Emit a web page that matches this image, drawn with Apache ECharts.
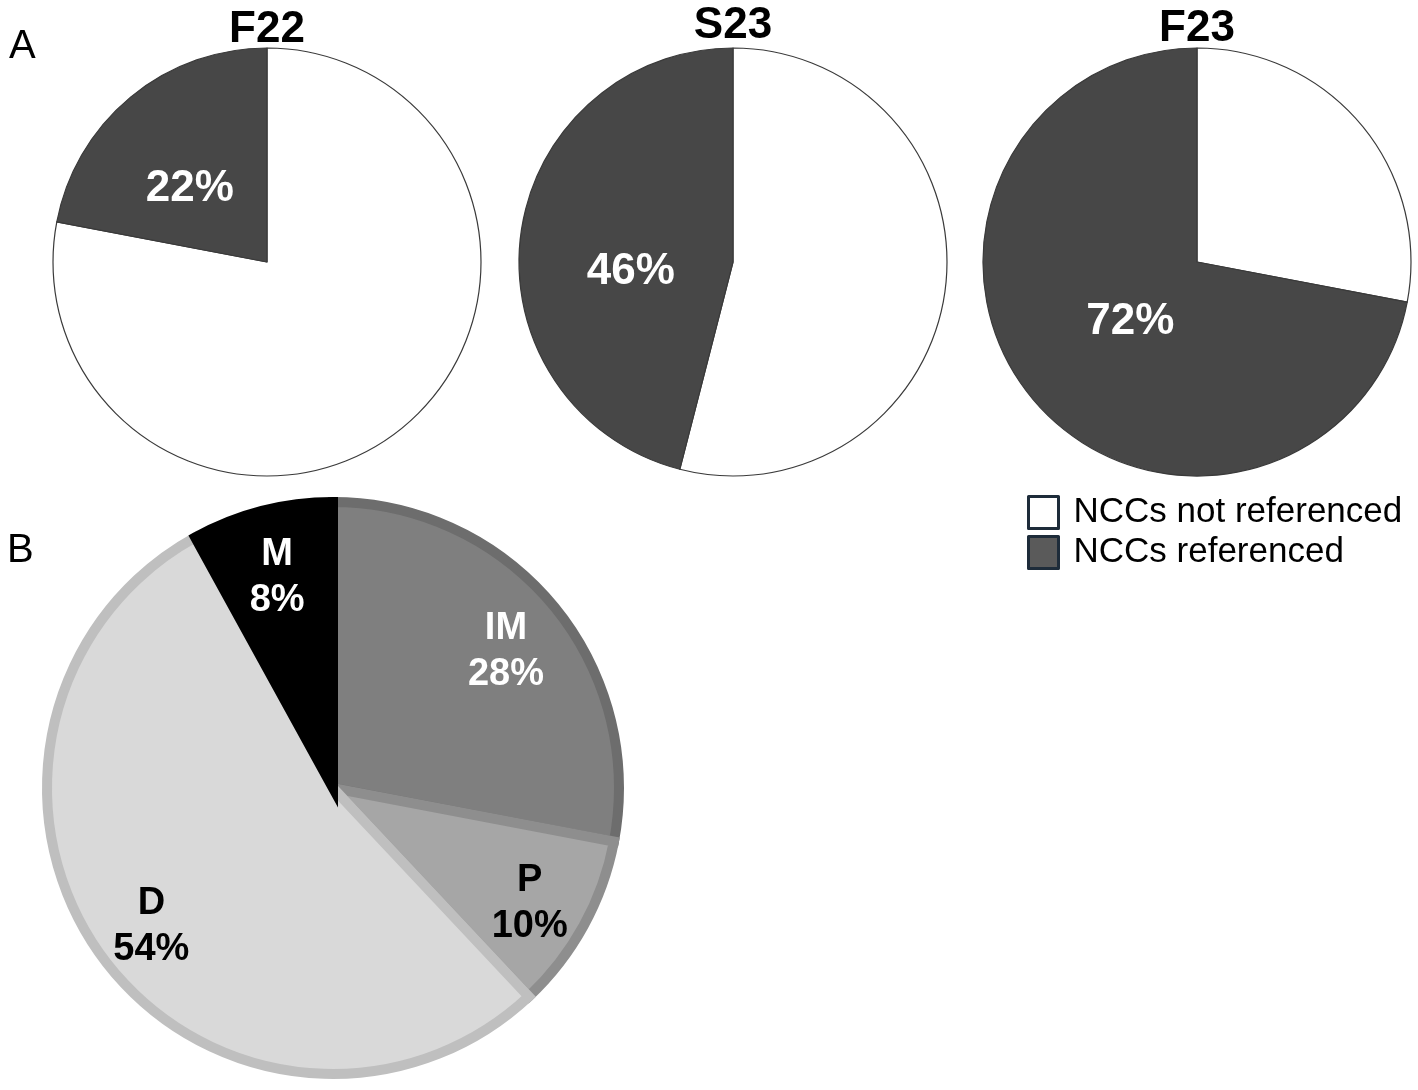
<!DOCTYPE html>
<html>
<head>
<meta charset="utf-8">
<script src="https://cdn.jsdelivr.net/npm/echarts@6/dist/echarts.min.js"></script>
<style>
  html, body { margin: 0; padding: 0; background: #fff; }
  #chart { width: 1418px; height: 1090px; }
</style>
</head>
<body>
<div id="chart"></div>
<script>
// panel A: share of NCCs referenced per term
var terms = ['F22', 'S23', 'F23'];
var refNames = ['NCCs not referenced', 'NCCs referenced'];
var notReferenced = [78, 54, 28];
var referenced = [22, 46, 72];

// panel B: category split
var catNames = ['IM', 'P', 'D', 'M'];
var catValues = [28, 10, 54, 8];

var catFill = ['#7f7f7f', '#a6a6a6', '#d9d9d9', '#000000'];
var catBorder = ['#6d6d6d', '#8e8e8e', '#bfbfbf', '#000000'];
var catText = ['#fff', '#000', '#000', '#fff'];

var pieCentersA = [[267, 262], [733, 262], [1197, 262]];
var titleY = [30, 26, 29];
// nudges so the % labels sit where the original put them
var labelNudge = [[-7, 12], [7, 24], [18, -10]];

var myChart = echarts.init(document.getElementById('chart'));

var series = [];
var graphics = [];

terms.forEach(function (t, i) {
    series.push({
        type: 'pie',
        center: pieCentersA[i],
        radius: 214,
        startAngle: 90,
        clockwise: true,
        silent: true,
        emphasis: { disabled: true },
        labelLine: { show: false },
        data: [
            {
                name: refNames[0],
                value: notReferenced[i],
                itemStyle: { color: '#ffffff', borderColor: '#3a3a3a', borderWidth: 1.2 },
                label: { show: false }
            },
            {
                name: refNames[1],
                value: referenced[i],
                itemStyle: { color: '#474747', borderColor: '#3a3a3a', borderWidth: 1.2 },
                label: {
                    show: true,
                    position: 'inside',
                    formatter: referenced[i] + '%',
                    color: '#fff',
                    fontSize: 44,
                    fontWeight: 'bold',
                    fontFamily: 'Liberation Sans, Arial, sans-serif',
                    offset: labelNudge[i]
                }
            }
        ]
    });
    graphics.push({
        type: 'text',
        x: pieCentersA[i][0],
        y: titleY[i],
        style: {
            text: t,
            textAlign: 'center',
            textVerticalAlign: 'middle',
            fill: '#000',
            font: 'bold 44px "Liberation Sans", Arial, sans-serif'
        }
    });
});

// panel B pie
series.push({
    type: 'pie',
    center: [333, 788],
    radius: 286,
    startAngle: 90,
    clockwise: true,
    silent: true,
    emphasis: { disabled: true },
    label: { show: false },
    labelLine: { show: false },
    data: catNames.map(function (n, i) {
        return {
            name: n,
            value: catValues[i],
            itemStyle: { color: catFill[i], borderColor: catBorder[i], borderWidth: 10, borderJoin: 'miter' }
        };
    })
});

// transparent ring on top only to carry the labels a bit further out
series.push({
    type: 'pie',
    center: [333, 788],
    radius: [152, 291],
    startAngle: 90,
    clockwise: true,
    silent: true,
    emphasis: { disabled: true },
    labelLine: { show: false },
    data: catNames.map(function (n, i) {
        return {
            name: n,
            value: catValues[i],
            itemStyle: { color: 'rgba(0,0,0,0)', borderWidth: 0 },
            label: {
                show: true,
                position: 'inside',
                formatter: n + '\n' + catValues[i] + '%',
                color: catText[i],
                fontSize: 38,
                lineHeight: 46,
                fontWeight: 'bold',
                fontFamily: 'Liberation Sans, Arial, sans-serif',
                offset: [0, 7]
            }
        };
    })
});

graphics.push({
    type: 'text', x: 9, y: 47,
    style: { text: 'A', textVerticalAlign: 'middle', fill: '#000', font: '40px "Liberation Sans", Arial, sans-serif' }
});
graphics.push({
    type: 'text', x: 7, y: 551,
    style: { text: 'B', textVerticalAlign: 'middle', fill: '#000', font: '40px "Liberation Sans", Arial, sans-serif' }
});

option = {
    animation: false,
    backgroundColor: '#ffffff',
    legend: {
        orient: 'vertical',
        left: 1027,
        top: 495,
        padding: 0,
        selectedMode: false,
        icon: 'rect',
        itemWidth: 30,
        itemHeight: 32,
        itemGap: 5,
        textStyle: {
            color: '#000',
            fontSize: 35,
            lineHeight: 32,
            padding: [0, 0, 0, 10],
            fontFamily: 'Liberation Sans, Arial, sans-serif'
        },
        data: [
            { name: refNames[0], itemStyle: { color: '#ffffff', borderColor: '#1e2c3a', borderWidth: 3 } },
            { name: refNames[1], itemStyle: { color: '#5a5a5a', borderColor: '#1e2c3a', borderWidth: 3 } }
        ]
    },
    graphic: graphics,
    series: series
};

myChart.setOption(option);
</script>
</body>
</html>
